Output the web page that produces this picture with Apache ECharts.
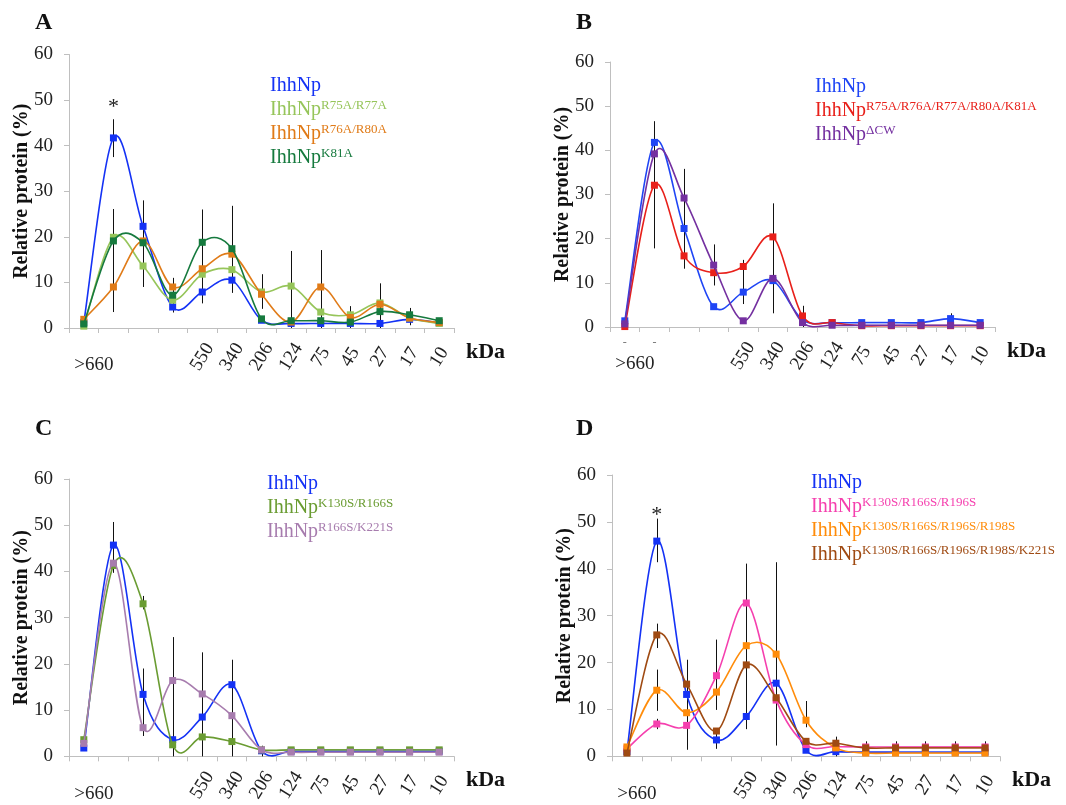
<!DOCTYPE html>
<html>
<head>
<meta charset="utf-8">
<script src="https://cdn.jsdelivr.net/npm/echarts@6/dist/echarts.min.js"></script>
<style>
html,body{margin:0;padding:0;background:#fff;}
#chart{width:1066px;height:805px;}
</style>
</head>
<body>
<div id="chart"></div>
<script>
// ---- tick labels (fractions, kDa) ----
const tickLabels = ['>660', '', '', '', '550', '340', '206', '124', '75', '45', '27', '17', '10'];
const dashLabelsB = ['-', '-', '', '', '', '', '', '', '', '', '', '', ''];
const panelLetters = ['A', 'B', 'C', 'D'];

// ---- Panel A ----
const A_IhhNp     = [1.2, 41.7, 22.3, 4.6, 7.9, 10.5, 1.7, 1.0, 1.0, 1.0, 1.0, 1.9, 1.1];
const A_R75A_R77A = [0.4, 19.9, 13.6, 6.1, 11.8, 12.8, 7.9, 9.2, 3.5, 2.9, 5.5, 2.2, 1.0];
const A_R76A_R80A = [1.9, 9.0, 19.1, 9.0, 13.0, 16.2, 7.4, 1.3, 9.0, 2.3, 5.2, 2.2, 1.2];
const A_K81A      = [0.9, 19.1, 18.7, 7.2, 18.8, 17.4, 2.0, 1.6, 1.6, 1.3, 3.6, 2.9, 1.6];
const A_err = [[1, 37.5, 45.8], [1, 3.5, 26.1], [2, 9.0, 28.0], [3, 3.4, 11.0], [4, 5.4, 26.0], [5, 7.7, 26.8],
               [6, 4.2, 11.8], [7, 0, 16.9], [8, 0, 17.1], [9, 0, 4.8], [10, 0, 9.8], [11, 0.6, 4.4]];
const A_star = [1, 48.5];

// ---- Panel B ----
const B_IhhNp = [1.4, 41.8, 22.3, 4.6, 7.9, 10.5, 1.6, 1.0, 1.0, 1.0, 1.0, 1.9, 1.0];
const B_R5A   = [0.1, 32.1, 16.1, 12.3, 13.7, 20.4, 2.5, 1.0, 0.3, 0.3, 0.3, 0.3, 0.3];
const B_dCW   = [0.7, 39.2, 29.2, 14.0, 1.4, 11.0, 1.0, 0.4, 0.4, 0.4, 0.4, 0.4, 0.4];
const B_err = [[1, 17.8, 46.6], [2, 13.2, 35.8], [3, 9.4, 18.7], [4, 5.2, 15.2], [5, 3.1, 28.0], [6, 0, 4.8], [11, 0.8, 3.1]];

// ---- Panel C ----
const C_IhhNp       = [1.8, 45.7, 13.4, 3.6, 8.5, 15.5, 1.2, 1.1, 1.1, 1.1, 1.1, 1.1, 1.1];
const C_K130S_R166S = [3.6, 41.3, 33.0, 2.5, 4.2, 3.2, 1.4, 1.4, 1.4, 1.4, 1.4, 1.4, 1.4];
const C_R166S_K221S = [2.8, 41.8, 6.2, 16.4, 13.5, 8.8, 1.4, 0.9, 0.9, 0.9, 0.9, 0.9, 0.9];
const C_err = [[1, 39.7, 50.7], [2, 31.8, 34.7], [2, 4.4, 19.0], [3, 0, 25.8], [4, 0, 22.5], [5, 0, 20.9], [6, 0, 2.3]];

// ---- Panel D ----
const D_IhhNp = [1.0, 45.9, 13.2, 3.5, 8.5, 15.6, 1.3, 1.0, 0.9, 0.9, 0.9, 0.9, 0.9];
const D_3S    = [1.6, 6.9, 6.6, 17.2, 32.7, 12.0, 2.5, 2.1, 2.0, 2.0, 2.0, 2.0, 2.0];
const D_4S    = [2.0, 14.1, 9.3, 13.7, 23.6, 21.8, 7.7, 1.8, 0.7, 0.7, 0.7, 0.7, 0.7];
const D_5S    = [0.7, 25.9, 15.4, 5.4, 19.5, 12.5, 3.2, 2.8, 1.8, 1.8, 1.8, 1.8, 1.8];
const D_err = [[1, 41.4, 50.7], [1, 23.1, 28.3], [1, 9.7, 18.5], [1, 5.8, 8.0], [2, 1.4, 20.6], [3, 9.9, 24.9], [3, 1.6, 5.0],
               [4, 5.8, 41.1], [5, 2.3, 41.4], [6, 6.2, 11.8], [7, 0, 4.2], [8, 1.2, 3.2], [9, 1.2, 3.2], [10, 1.2, 3.2], [11, 1.2, 3.2], [12, 1.2, 3.2]];
const D_star = [1, 51.5];

// ---- panel definitions (built from the arrays above) ----
const SERIF = '"Liberation Serif", "Times New Roman", serif';
const panels = [
  { grid: {left: 69, top: 54.5, width: 385, height: 273.5}, legend: {left: 265, top: 76},
    series: [['IhhNp', A_IhhNp, '#1432f5'], ['IhhNp R75A/R77A', A_R75A_R77A, '#96c55a'],
             ['IhhNp R76A/R80A', A_R76A_R80A, '#e07b18'], ['IhhNp K81A', A_K81A, '#167a3e']],
    err: A_err, star: A_star, title: {left: 35, top: 11}, dashes: null },
  { grid: {left: 610, top: 62, width: 385, height: 265}, legend: {left: 810, top: 77},
    series: [['IhhNp', B_IhhNp, '#1f45f5'], ['IhhNp R75A/R76A/R77A/R80A/K81A', B_R5A, '#e8201a'],
             ['IhhNp ΔCW', B_dCW, '#7430a0']],
    err: B_err, star: null, title: {left: 576, top: 11}, dashes: dashLabelsB },
  { grid: {left: 69, top: 479, width: 385, height: 280}, legend: {left: 262, top: 474},
    series: [['IhhNp', C_IhhNp, '#1432f5'], ['IhhNp K130S/R166S', C_K130S_R166S, '#6a9c32'],
             ['IhhNp R166S/K221S', C_R166S_K221S, '#a77cae']],
    err: C_err, star: null, title: {left: 35, top: 417}, dashes: null },
  { grid: {left: 612, top: 475, width: 388, height: 284}, legend: {left: 806, top: 473},
    series: [['IhhNp', D_IhhNp, '#1432f5'], ['IhhNp K130S/R166S/R196S', D_3S, '#f53fae'],
             ['IhhNp K130S/R166S/R196S/R198S', D_4S, '#ff8c0a'], ['IhhNp K130S/R166S/R196S/R198S/K221S', D_5S, '#9f4a12']],
    err: D_err, star: D_star, title: {left: 576, top: 417}, dashes: null }
];

const option = {
  animation: false,
  backgroundColor: '#fff',
  textStyle: {fontFamily: SERIF},
  title: [], grid: [], xAxis: [], yAxis: [], legend: [], series: []
};

// smoothed curve (cardinal spline through the points) drawn via the axes' coordinate system
function curveSeries(values, color, xi, yi, z) {
  return {
    type: 'custom', xAxisIndex: xi, yAxisIndex: yi, z: z, silent: true, clip: false,
    data: values.map((v, i) => [i, v]),
    renderItem: (params, api) => {
      const i = params.dataIndex, n = values.length;
      if (i >= n - 1) return null;
      const P = j => { j = Math.max(0, Math.min(n - 1, j)); return api.coord([j, values[j]]); };
      const p0 = P(i - 1), p1 = P(i), p2 = P(i + 1), p3 = P(i + 2);
      const t = 1 / 6;
      return {
        type: 'bezierCurve',
        shape: {x1: p1[0], y1: p1[1], x2: p2[0], y2: p2[1],
                cpx1: p1[0] + (p2[0] - p0[0]) * t, cpy1: p1[1] + (p2[1] - p0[1]) * t,
                cpx2: p2[0] - (p3[0] - p1[0]) * t, cpy2: p2[1] - (p3[1] - p1[1]) * t},
        style: {stroke: color, lineWidth: 1.6, fill: null}
      };
    }
  };
}

panels.forEach((p, k) => {
  option.title.push({text: panelLetters[k], left: p.title.left, top: p.title.top, padding: 0,
    textStyle: {fontFamily: SERIF, fontWeight: 'bold', fontSize: 24, color: '#111'}});
  option.grid.push(Object.assign({containLabel: false}, p.grid));
  const mainX = option.xAxis.length;
  // main x axis with rotated labels
  option.xAxis.push({
    type: 'category', gridIndex: k, data: tickLabels, boundaryGap: true,
    axisLine: {show: true, lineStyle: {color: '#bfbfbf', width: 1}},
    axisTick: {show: true, length: 5, interval: 0, lineStyle: {color: '#bfbfbf'}},
    axisLabel: {interval: 0, rotate: 58, margin: 29, align: 'center', verticalAlign: 'middle',
      fontFamily: SERIF, fontSize: 19, color: '#222',
      formatter: (v, i) => i === 0 ? '' : v},
    name: 'kDa', nameLocation: 'end', nameGap: 12, nameMoveOverlap: false,
    nameTextStyle: {fontFamily: SERIF, fontWeight: 'bold', fontSize: 22, color: '#111', verticalAlign: 'top', padding: [13, 0, 0, 0]},
    splitLine: {show: false}
  });
  // secondary x axis carrying the horizontal '>660' label
  option.xAxis.push({
    type: 'category', gridIndex: k, data: tickLabels, boundaryGap: true, position: 'bottom',
    axisLine: {show: false}, axisTick: {show: false}, splitLine: {show: false},
    axisLabel: {interval: 0, rotate: 0, margin: 28, fontFamily: SERIF, fontSize: 19, color: '#222',
      padding: [0, 0, 0, 20], formatter: (v, i) => i === 0 ? v : ''}
  });
  if (p.dashes) {
    option.xAxis.push({
      type: 'category', gridIndex: k, data: p.dashes, boundaryGap: true, position: 'bottom',
      axisLine: {show: false}, axisTick: {show: false}, splitLine: {show: false},
      axisLabel: {interval: 0, rotate: 0, margin: 10, fontFamily: SERIF, fontSize: 12, color: '#777'}
    });
  }
  option.yAxis.push({
    type: 'value', gridIndex: k, min: 0, max: 60, interval: 10,
    axisLine: {show: true, lineStyle: {color: '#bfbfbf', width: 1}},
    axisTick: {show: true, length: 5, lineStyle: {color: '#bfbfbf'}},
    axisLabel: {margin: 16, fontFamily: SERIF, fontSize: 19, color: '#222'},
    splitLine: {show: false},
    name: 'Relative protein (%)', nameLocation: 'middle', nameGap: 37, nameRotate: 90, nameMoveOverlap: false,
    nameTextStyle: {fontFamily: SERIF, fontWeight: 'bold', fontSize: 20, color: '#111'}
  });
  option.legend.push({
    orient: 'vertical', left: p.legend.left, top: p.legend.top, icon: 'none', itemWidth: 0, itemHeight: 20,
    itemGap: 3, padding: 0, selectedMode: false,
    data: p.series.map(s => ({name: s[0], textStyle: {color: s[2]}})),
    formatter: name => {
      const i = name.indexOf(' ');
      return i < 0 ? '{b|' + name + '}' : '{b|' + name.slice(0, i) + '}{s|' + name.slice(i + 1) + '}';
    },
    textStyle: {fontFamily: SERIF, rich: {
      b: {fontFamily: SERIF, fontSize: 20, lineHeight: 22},
      s: {fontFamily: SERIF, fontSize: 13, lineHeight: 14, verticalAlign: 'top'}
    }}
  });
  // error bars
  option.series.push({
    type: 'custom', xAxisIndex: mainX, yAxisIndex: k, data: p.err, z: 1, silent: true,
    renderItem: (params, api) => {
      const a = api.coord([api.value(0), api.value(1)]);
      const b = api.coord([api.value(0), api.value(2)]);
      return {type: 'line', shape: {x1: Math.round(a[0]) + 0.5, y1: a[1], x2: Math.round(b[0]) + 0.5, y2: b[1]},
        style: {stroke: '#111', lineWidth: 1}};
    }
  });
  p.series.forEach((s, j) => {
    option.series.push(curveSeries(s[1], s[2], mainX, k, 2 + 2 * j));
    const ser = {
      type: 'scatter', name: s[0], xAxisIndex: mainX, yAxisIndex: k, data: s[1],
      symbol: 'rect', symbolSize: 7, z: 3 + 2 * j,
      itemStyle: {color: s[2], opacity: 1}
    };
    if (j === 0 && p.star) {
      ser.markPoint = {symbol: 'circle', symbolSize: 1, itemStyle: {color: 'rgba(0,0,0,0)'},
        label: {show: true, position: 'inside', formatter: '*', fontFamily: SERIF, fontSize: 22, color: '#222'},
        data: [{coord: p.star}]};
    }
    option.series.push(ser);
  });
});

const chart = echarts.init(document.getElementById('chart'), null, {renderer: 'canvas'});
chart.setOption(option);
</script>
</body>
</html>
